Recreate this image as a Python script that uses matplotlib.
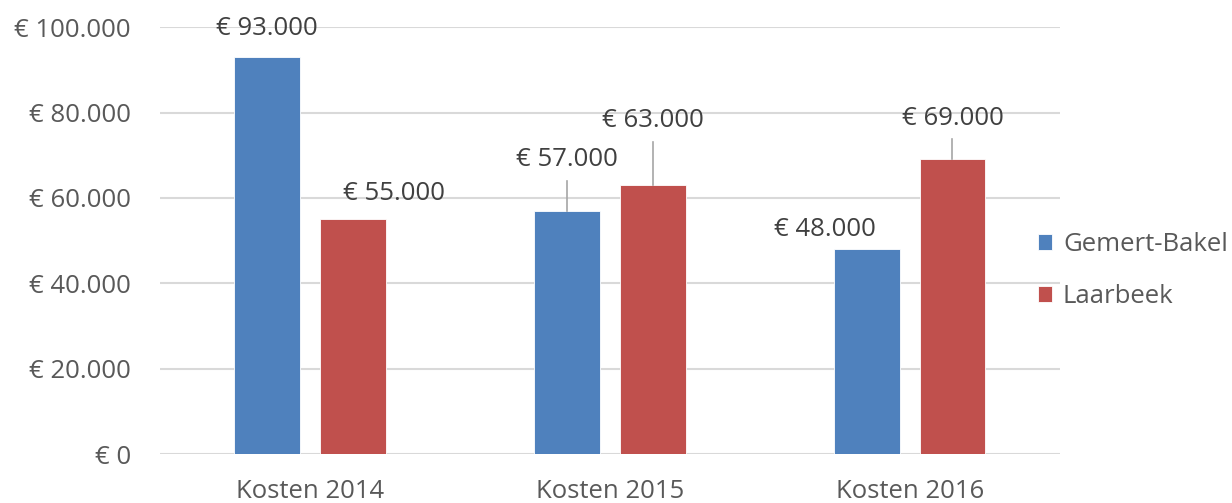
import numpy as np
import matplotlib
matplotlib.use('Agg')
import matplotlib.pyplot as plt
from matplotlib.ticker import FuncFormatter

categories = ['Kosten 2014', 'Kosten 2015', 'Kosten 2016']
series_names = ['Gemert-Bakel', 'Laarbeek']
gemert_bakel = [93000, 57000, 48000]
laarbeek = [55000, 63000, 69000]

colors = ['#4F81BD', '#C0504D']
text_color = '#595959'
grid_color = '#D9D9D9'

# label placement: (x shift from bar centre, label centre y, draw leader line)
label_pos = [
    [(0.0, 99700, False), (0.137, 61100, False)],
    [(0.0, 68900, True), (0.0, 78200, True)],
    [(-0.14, 52700, False), (0.0, 78700, True)],
]


def euro(v, pos=None):
    return '€ ' + f'{int(v):,}'.replace(',', '.')


def main():
    plt.rcParams['font.family'] = ['Open Sans', 'DejaVu Sans']
    fs = 18.5
    fig = plt.figure(figsize=(12.32, 5.03), dpi=100)
    ax = fig.add_axes([0.130, 0.0974, 0.730, 0.8486])

    x = np.arange(len(categories))
    width = 0.22
    offsets = [-0.143, 0.143]
    values = [gemert_bakel, laarbeek]

    for s, (name, vals) in enumerate(zip(series_names, values)):
        ax.bar(x + offsets[s], vals, width, color=colors[s], label=name,
               edgecolor='white', linewidth=0.6, zorder=3)

    # data labels
    for i in range(len(categories)):
        for s in range(2):
            v = values[s][i]
            bx = x[i] + offsets[s]
            dx, ly, leader = label_pos[i][s]
            ax.text(bx + dx, ly, euro(v), ha='center', va='center',
                    fontsize=fs, color='#404040', zorder=5)
            if leader:
                ax.plot([bx, bx + dx], [v, ly - 5000], color='#A6A6A6',
                        linewidth=1.2, zorder=4)

    ax.set_xlim(-0.5, 2.5)
    ax.set_ylim(0, 100000)
    ax.set_yticks(np.arange(0, 100001, 20000))
    ax.yaxis.set_major_formatter(FuncFormatter(euro))
    ax.set_xticks(x)
    ax.set_xticklabels(categories)
    ax.tick_params(axis='y', length=0, pad=21, labelsize=fs, labelcolor=text_color)
    ax.tick_params(axis='x', length=0, pad=18, labelsize=fs, labelcolor=text_color)
    ax.grid(axis='y', color=grid_color, linewidth=1.5, zorder=0)
    ax.set_axisbelow(True)
    for sp in ax.spines.values():
        sp.set_visible(False)

    leg = fig.legend(loc='upper left', bbox_to_anchor=(1038 / 1232, 1 - 232 / 503),
                     frameon=False, fontsize=fs, handlelength=0.55, handleheight=0.55,
                     handletextpad=0.42, labelspacing=1.05, borderpad=0,
                     borderaxespad=0)
    for t in leg.get_texts():
        t.set_color(text_color)

    fig.savefig('out.png', dpi=100)
    plt.close(fig)


if __name__ == '__main__':
    main()
